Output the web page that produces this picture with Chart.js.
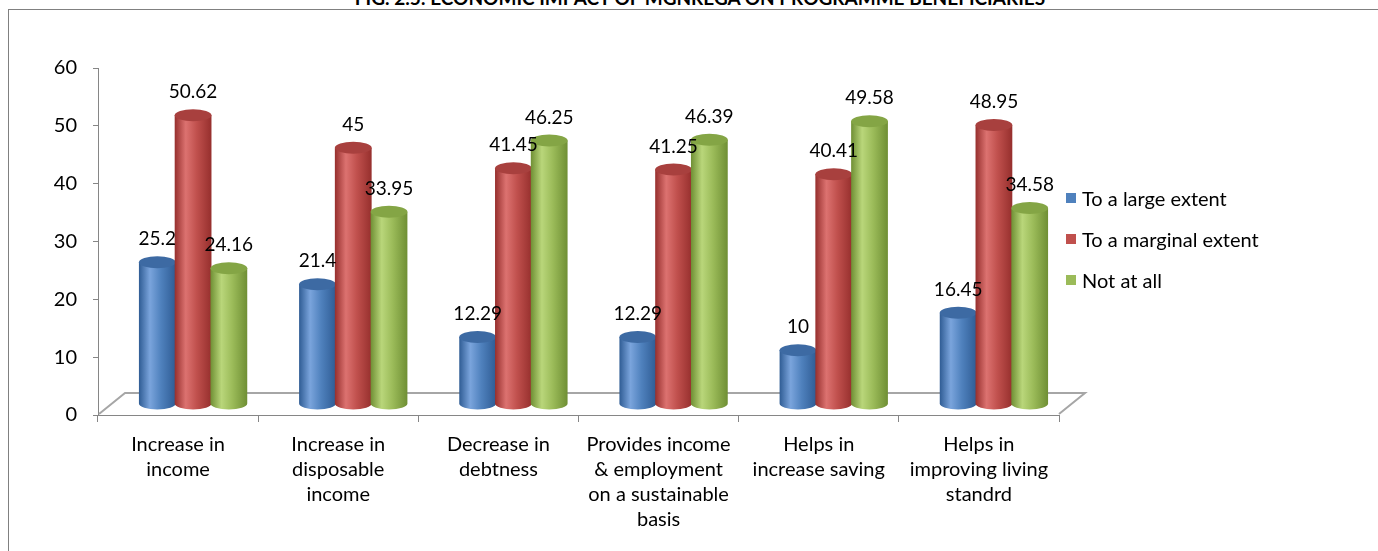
<!DOCTYPE html>
<html>
<head>
<meta charset="utf-8">
<script src="https://cdn.jsdelivr.net/npm/chart.js@4.4.1/dist/chart.umd.min.js"></script>
<style>
    body { margin: 0; background: #fff; font-family: Lato, 'Open Sans', sans-serif; }
    .wrap { position: relative; width: 1378px; height: 551px; overflow: hidden; }
    .title { position: absolute; top: -14px; left: 0; width: 1400px; text-align: center; font: bold 19px/23px Lato, sans-serif; color: #000; }
    .frame { position: absolute; left: 8px; top: 9px; right: -2px; bottom: -2px; border-top: 1px solid #808080; border-left: 1px solid #808080; }
    canvas { position: absolute; left: 0; top: 0; }
    .legend { position: absolute; left: 1066px; top: 177px; font-size: 20px; color: #000; }
    .legend-item { display: flex; align-items: center; height: 41px; }
    .legend-dot { width: 10px; height: 10px; margin-right: 6px; }
</style>
</head>
<body>
<div class="wrap">
    <div class="title">FIG. 2.5: ECONOMIC IMPACT OF MGNREGA ON PROGRAMME BENEFICIARIES</div>
    <div class="frame"></div>
    <canvas id="chart" width="1378" height="551"></canvas>
    <div class="legend" id="legend"></div>
</div>
<script>
const CATEGORIES = [
    ['Increase in', 'income'],
    ['Increase in', 'disposable', 'income'],
    ['Decrease in', 'debtness'],
    ['Provides income', '& employment', 'on a sustainable', 'basis'],
    ['Helps in', 'increase saving'],
    ['Helps in', 'improving living', 'standrd']
];
const LARGE = [25.2, 21.4, 12.29, 12.29, 10, 16.45];
const MARGINAL = [50.62, 45, 41.45, 41.25, 40.41, 48.95];
const NOT_AT_ALL = [24.16, 33.95, 46.25, 46.39, 49.58, 34.58];
const SERIES = ['To a large extent', 'To a marginal extent', 'Not at all'];

// body, highlight, dark edge, top cap
const SHADES = [
    ['#4f81bd', '#7aa4dc', '#2f5c94', '#3d6aa3'],
    ['#c0504d', '#dc7270', '#962f2d', '#a8403e'],
    ['#9bbb59', '#b9d67a', '#6f8f34', '#84a545']
];

const DX = 15, DY = -7, BASE_DY = -11, RY = 6;

function cylinder(ctx, cx, w, topY, botY, s) {
    const l = cx - w / 2, r = cx + w / 2;
    const g = ctx.createLinearGradient(l, 0, r, 0);
    g.addColorStop(0, s[2]);
    g.addColorStop(0.3, s[1]);
    g.addColorStop(0.6, s[0]);
    g.addColorStop(1, s[2]);
    ctx.fillStyle = g;
    ctx.beginPath();
    ctx.moveTo(l, topY);
    ctx.lineTo(l, botY);
    ctx.ellipse(cx, botY, w / 2, RY, 0, Math.PI, 0, true);
    ctx.lineTo(r, topY);
    ctx.closePath();
    ctx.fill();
    ctx.fillStyle = s[3];
    ctx.beginPath();
    ctx.ellipse(cx, topY, w / 2, RY, 0, 0, Math.PI * 2);
    ctx.fill();
}

const cylinders = {
    id: 'cylinders',
    beforeDatasetsDraw(chart) {
        const ctx = chart.ctx, a = chart.chartArea;
        ctx.save();
        ctx.strokeStyle = '#a6a6a6';
        ctx.lineWidth = 2;
        ctx.beginPath();
        ctx.moveTo(a.left + 1, a.bottom - 1);
        ctx.lineTo(a.left + 27, a.bottom - 22);
        ctx.lineTo(a.right + 26, a.bottom - 22);
        ctx.lineTo(a.right, a.bottom - 1);
        ctx.stroke();
        ctx.restore();
    },
    afterDatasetsDraw(chart) {
        const ctx = chart.ctx;
        ctx.save();
        const n = chart.data.labels.length;
        for (let i = 0; i < n; i++) {
            chart.data.datasets.forEach((ds, d) => {
                const bar = chart.getDatasetMeta(d).data[i];
                cylinder(ctx, bar.x + DX, bar.width + 1, bar.y + DY, bar.base + BASE_DY, SHADES[d]);
            });
        }
        ctx.fillStyle = '#000';
        ctx.font = '19px Lato, sans-serif';
        ctx.textAlign = 'center';
        ctx.textBaseline = 'middle';
        chart.data.datasets.forEach((ds, d) => {
            chart.getDatasetMeta(d).data.forEach((bar, i) => {
                ctx.fillText(String(ds.data[i]), bar.x + DX, bar.y + DY - 23);
            });
        });
        ctx.restore();
    }
};

new Chart(document.getElementById('chart'), {
    type: 'bar',
    data: {
        labels: CATEGORIES,
        datasets: [LARGE, MARGINAL, NOT_AT_ALL].map((vals, i) => ({
            label: SERIES[i],
            data: vals,
            backgroundColor: 'rgba(0,0,0,0)',
            categoryPercentage: 0.67,
            barPercentage: 1
        }))
    },
    options: {
        responsive: false,
        animation: false,
        layout: { padding: { left: 0, right: 319, top: 68, bottom: 0 } },
        plugins: { legend: { display: false }, tooltip: { enabled: false } },
        scales: {
            y: {
                min: 0, max: 60,
                ticks: { stepSize: 10, padding: 16, color: '#000', font: { family: 'Lato', size: 20 } },
                grid: { drawOnChartArea: false, tickLength: 5, color: '#868686' },
                border: { color: '#868686' },
                afterFit(s) { s.width = 98; }
            },
            x: {
                ticks: { padding: 10, color: '#000', maxRotation: 0, autoSkip: false,
                    font: { family: 'Lato', size: 20, lineHeight: 1.25 } },
                grid: { drawOnChartArea: false, tickLength: 7, color: '#868686', offset: true },
                border: { color: '#868686' },
                afterFit(s) { s.height = 136; }
            }
        }
    },
    plugins: [cylinders]
});

document.getElementById('legend').innerHTML = SERIES.map((name, i) =>
    `<div class="legend-item"><span class="legend-dot" style="background:${SHADES[i][0]}"></span>${name}</div>`
).join('');
</script>
</body>
</html>
